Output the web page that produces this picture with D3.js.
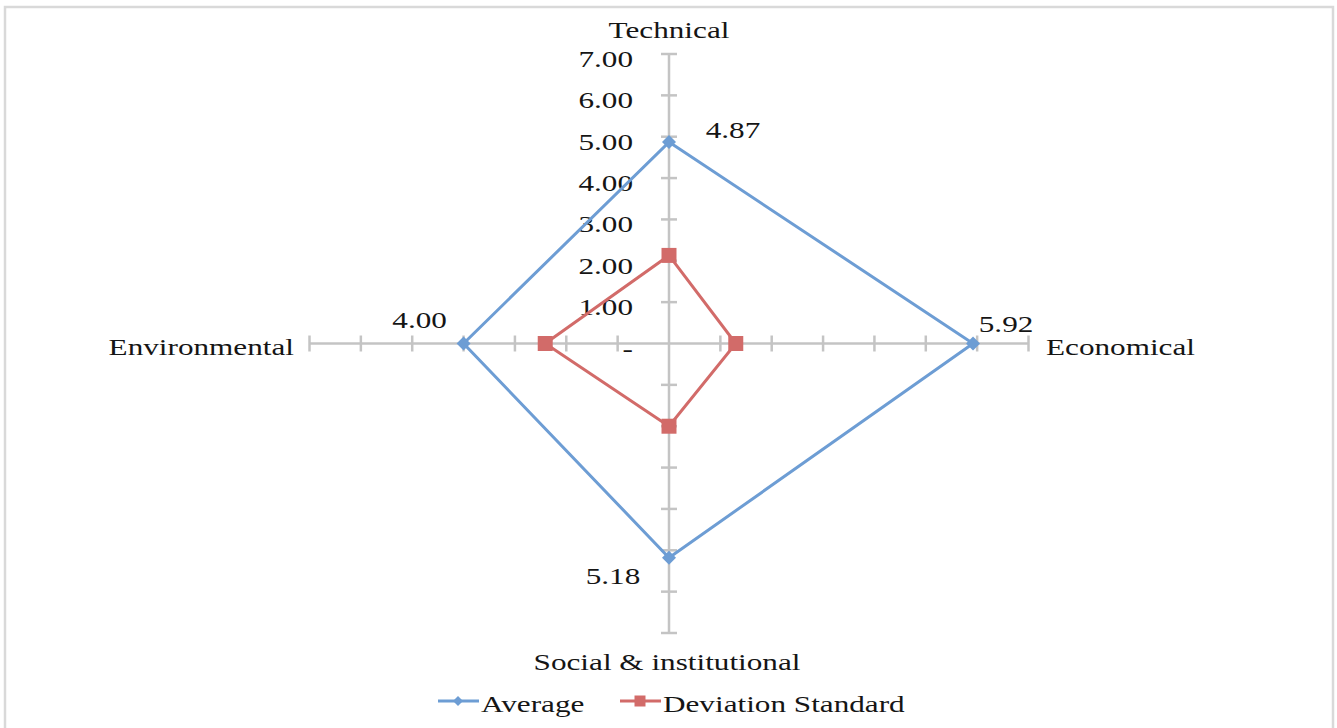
<!DOCTYPE html>
<html>
<head>
<meta charset="utf-8">
<script src="https://cdn.jsdelivr.net/npm/d3@7"></script>
<style>
  body { margin: 0; background: #ffffff; }
  svg text { font-family: "Liberation Serif", "Times New Roman", serif; fill: #151515; }
</style>
</head>
<body>
<svg id="chart" width="1337" height="728"></svg>
<script>
// ---- data ----
const categories = ["Technical", "Economical", "Social & institutional", "Environmental"];
const average = [4.87, 5.92, 5.18, 4.00];
const deviationStandard = [2.13, 1.30, 2.00, 2.41];
const seriesNames = ["Average", "Deviation Standard"];
const tickValues = [0, 1, 2, 3, 4, 5, 6, 7];
const tickLabels = ["-", "1.00", "2.00", "3.00", "4.00", "5.00", "6.00", "7.00"];

// ---- layout & style ----
const cx = 669, cy = 343.5;
const FONT = 24, SX = 1.30;          // text is drawn horizontally widened
const axisColor = "#c4c4c4";
const colors = ["#6d9dd4", "#d26b69"];

const svg = d3.select("#chart");

// outer frame
svg.append("rect")
  .attr("x", 5).attr("y", 7).attr("width", 1328).attr("height", 740)
  .attr("fill", "none").attr("stroke", "#d9d9d9").attr("stroke-width", 2.5);

// radial scales (horizontal and vertical extents differ)
const rx = d3.scaleLinear().domain([0, 7]).range([0, 359.5]);
const ry = d3.scaleLinear().domain([0, 7]).range([0, 289.5]);
const angle = d3.scalePoint().domain(categories).range([0, 2 * Math.PI * 3 / 4]);

function pos(cat, v) {
  const a = angle(cat);
  return [cx + rx(v) * Math.sin(a), cy - ry(v) * Math.cos(a)];
}

function stretchedText(g, x, y, str, anchor) {
  return g.append("text")
    .attr("transform", `translate(${x},${y}) scale(${SX},1)`)
    .attr("text-anchor", anchor || "middle")
    .attr("font-size", FONT)
    .text(str);
}

// ---- axes ----
const axesG = svg.append("g");
categories.forEach(cat => {
  const [x1, y1] = pos(cat, 7);
  axesG.append("line")
    .attr("x1", cx).attr("y1", cy).attr("x2", x1).attr("y2", y1)
    .attr("stroke", axisColor).attr("stroke-width", 2.5);
  const a = angle(cat);
  const px = Math.cos(a), py = Math.sin(a);  // perpendicular direction
  tickValues.filter(t => t > 0).forEach(t => {
    const [tx, ty] = pos(cat, t);
    axesG.append("line")
      .attr("x1", tx - px * 8).attr("y1", ty - py * 8)
      .attr("x2", tx + px * 8).attr("y2", ty + py * 8)
      .attr("stroke", axisColor).attr("stroke-width", 2.5);
  });
});

// value labels on the first axis
tickValues.forEach((t, i) => {
  const [, ty] = pos(categories[0], t);
  stretchedText(axesG, 633, ty + 13, tickLabels[i], "end");
});

// category labels
const catLabelPos = [
  { dx: 0, dy: -306, anchor: "middle" },
  { dx: 377, dy: 11.5, anchor: "start" },
  { dx: -2, dy: 326, anchor: "middle" },
  { dx: -375, dy: 11.5, anchor: "end" }
];
categories.forEach((cat, i) => {
  const p = catLabelPos[i];
  stretchedText(svg, cx + p.dx, cy + p.dy, cat, p.anchor);
});

// ---- series ----
const series = [average, deviationStandard];
const line = d3.line().curve(d3.curveLinearClosed);

const diamond = s => `M0,${-s}L${s},0L0,${s}L${-s},0Z`;
const square = s => `M${-s},${-s}H${s}V${s}H${-s}Z`;
const markerPath = [diamond, square];
const markerSize = [7, 7.5];

series.forEach((vals, si) => {
  const pts = categories.map((c, i) => pos(c, vals[i]));
  svg.append("path")
    .attr("d", line(pts))
    .attr("fill", "none")
    .attr("stroke", colors[si])
    .attr("stroke-width", 3)
    .attr("stroke-linejoin", "miter");
  svg.selectAll(null).data(pts).enter().append("path")
    .attr("transform", d => `translate(${d[0]},${d[1]})`)
    .attr("d", markerPath[si](markerSize[si]))
    .attr("fill", colors[si]);
});

// data labels for the average series
const labelOffsets = [[64, -4], [33, -12], [-56, 26], [-44, -16]];
categories.forEach((cat, i) => {
  const [x, y] = pos(cat, average[i]);
  stretchedText(svg, x + labelOffsets[i][0], y + labelOffsets[i][1], average[i].toFixed(2), "middle");
});

// ---- legend ----
const legendItems = [
  { x: 438, name: seriesNames[0] },
  { x: 620, name: seriesNames[1] }
];
const legY = 701;
legendItems.forEach((it, si) => {
  const g = svg.append("g");
  g.append("line")
    .attr("x1", it.x).attr("x2", it.x + 41).attr("y1", legY).attr("y2", legY)
    .attr("stroke", colors[si]).attr("stroke-width", 3);
  g.append("path")
    .attr("transform", `translate(${it.x + 20},${legY})`)
    .attr("d", markerPath[si](si === 0 ? 5 : 5.5))
    .attr("fill", colors[si]);
  stretchedText(g, it.x + 43, legY + 11, it.name, "start");
});
</script>
</body>
</html>
